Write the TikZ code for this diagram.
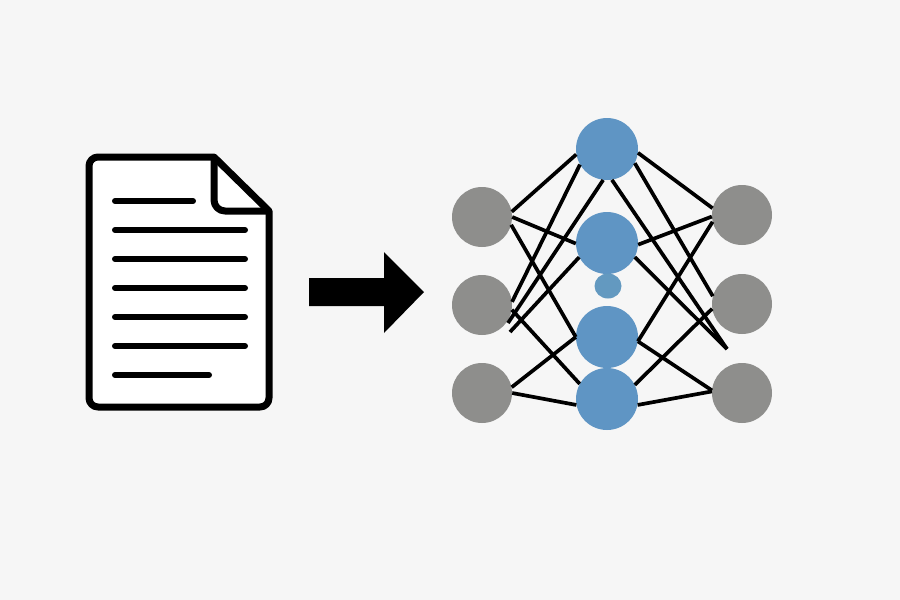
\documentclass[tikz,border=0pt]{standalone}
\usepackage{tikz}
\usetikzlibrary{shapes.geometric}
\definecolor{PageGray}{RGB}{246,246,246}
\definecolor{NeuronBlue}{RGB}{95,149,196}
\definecolor{DotBlue}{RGB}{99,153,192}
\definecolor{NeuronGray}{RGB}{142,142,140}
\tikzset{
  outerneuron/.style={circle, fill=NeuronGray, minimum size=60pt, inner sep=0pt},
  hiddenneuron/.style={circle, fill=NeuronBlue, minimum size=62pt, inner sep=0pt},
  dotneuron/.style={ellipse, fill=DotBlue, minimum width=27pt, minimum height=25pt, inner sep=0pt},
  netline/.style={draw=black, line width=3.7pt},
  docline/.style={draw=black, line width=6pt, line cap=round},
  docedge/.style={draw=black, line width=7pt, line join=round}
}
\begin{document}
\begin{tikzpicture}[x=1pt, y=-1pt]
  \fill[PageGray] (0,0) rectangle (900,600);
  \useasboundingbox (0,0) rectangle (900,600);
  % document
  \draw[docedge, fill=white] (214,157) -- (98,157) to[out=180, in=90] (89,166) -- (89,398)
    to[out=-90, in=180] (98,407) -- (260,407) to[out=0, in=-90] (269,398) -- (269,211) -- cycle;
  \draw[docedge] (214,157) -- (214,200) to[out=-90, in=180] (225,211) -- (269,211);
  \foreach \y/\xend in {201/193, 230/245, 259/245, 288/245, 317/245, 346/245, 375/209}
    \draw[docline] (115,\y) -- (\xend,\y);
  % arrow
  \fill[black] (309,278) -- (384,278) -- (384,252) -- (424,292) -- (384,333) -- (384,306) -- (309,306) -- cycle;
  % network
  \node[outerneuron] (inA) at (482,217) {};
  \node[outerneuron] (inB) at (482,305) {};
  \node[outerneuron] (inC) at (482,393) {};
  \node[outerneuron] (outA) at (742,215) {};
  \node[outerneuron] (outB) at (742,304) {};
  \node[outerneuron] (outC) at (742,393) {};
  \node[hiddenneuron] (hidA) at (607,149) {};
  \node[hiddenneuron] (hidB) at (607,243) {};
  \node[dotneuron] (hidDots) at (608,286) {};
  \node[hiddenneuron] (hidC) at (607,337) {};
  \node[hiddenneuron] (hidD) at (607,399) {};
  \coordinate (freeA) at (508,323);
  \coordinate (freeB) at (510,332);
  \coordinate (freeC) at (727,349);
  \foreach \from/\to in {hidA.190/inA.10, hidA.210/inB.6, hidA.263/freeA, hidA.-7/outA.167,
      hidA.-27/outB.165, hidA.-81/freeC, hidB.181/inA.0, hidB.207/freeB, hidB.-3/outA.183,
      hidB.-27/freeC, hidC.180/inC.11, hidC.180/inA.-15, hidC.-8/outA.193, hidC.-8/outC.175,
      hidD.151/inB.-9, hidD.191/inC.0, hidD.27/outB.189, hidD.-11/outC.177}
    \draw[netline] (\from) -- (\to);
\end{tikzpicture}
\end{document}
